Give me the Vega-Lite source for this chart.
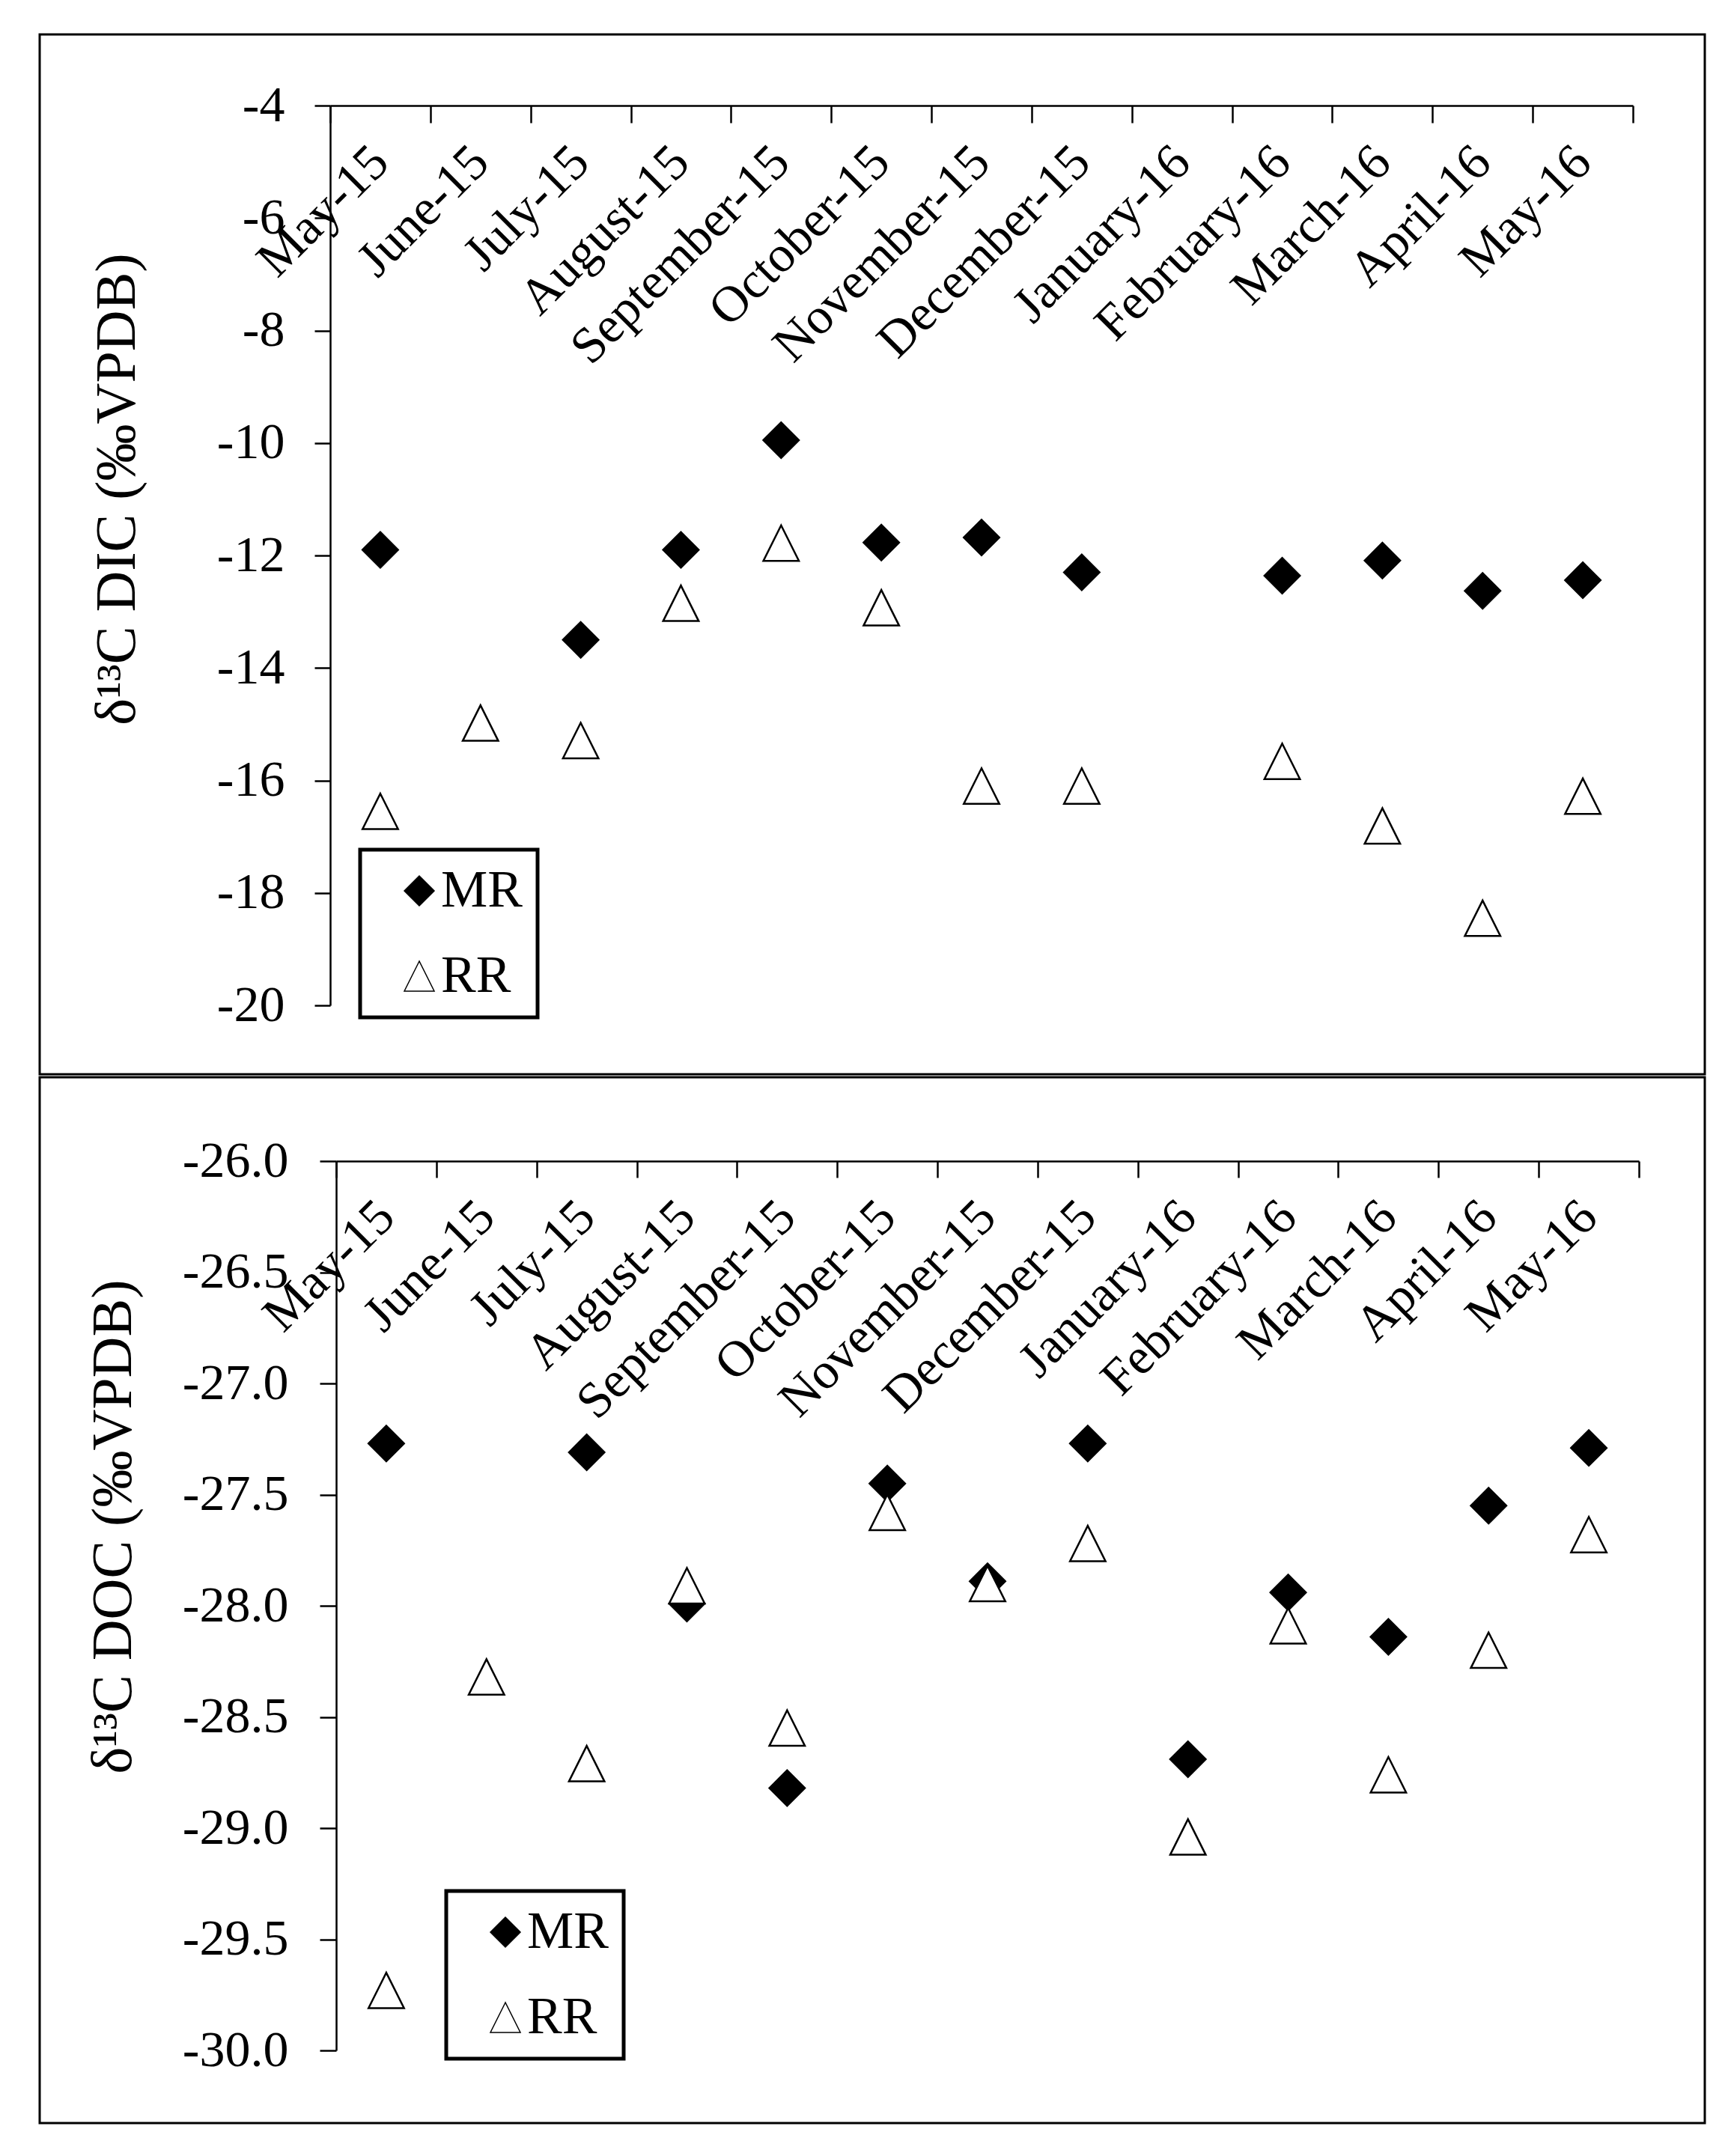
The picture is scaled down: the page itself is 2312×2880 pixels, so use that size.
{
  "$schema": "https://vega.github.io/schema/vega-lite/v6.json",
  "padding": {"left": 27, "top": 44, "right": 0, "bottom": 0},
  "autosize": {"type": "pad"},
  "background": "white",
  "spacing": 0,
  "resolve": {
    "scale": {"x": "independent", "y": "independent", "shape": "independent", "fill": "independent"},
    "legend": {"shape": "independent", "fill": "independent"},
    "axis": {"x": "independent", "y": "independent"}
  },
  "config": {
    "font": "Liberation Serif",
    "view": {"stroke": "black", "strokeWidth": 3},
    "axis": {
      "domainColor": "black", "domainWidth": 2.5,
      "tickColor": "black", "tickWidth": 2.5,
      "labelColor": "black", "labelFont": "Liberation Serif", "labelFontSize": 68, "labelLimit": 1000,
      "titleFont": "Liberation Serif", "titleFontSize": 76, "titleFontWeight": "normal", "titleColor": "black",
      "grid": false, "labelFlush": false, "labelOverlap": false
    },
    "legend": {"strokeWidth": 5}
  },
  "datasets": {
    "dic": [
      {"month": "May-15", "series": "MR", "value": -11.9},
      {"month": "July-15", "series": "MR", "value": -13.5},
      {"month": "August-15", "series": "MR", "value": -11.9},
      {"month": "September-15", "series": "MR", "value": -9.95},
      {"month": "October-15", "series": "MR", "value": -11.77},
      {"month": "November-15", "series": "MR", "value": -11.68},
      {"month": "December-15", "series": "MR", "value": -12.3},
      {"month": "February-16", "series": "MR", "value": -12.36},
      {"month": "March-16", "series": "MR", "value": -12.09},
      {"month": "April-16", "series": "MR", "value": -12.63},
      {"month": "May-16", "series": "MR", "value": -12.44},
      {"month": "May-15", "series": "RR", "value": -16.55},
      {"month": "June-15", "series": "RR", "value": -14.98},
      {"month": "July-15", "series": "RR", "value": -15.29},
      {"month": "August-15", "series": "RR", "value": -12.85},
      {"month": "September-15", "series": "RR", "value": -11.78},
      {"month": "October-15", "series": "RR", "value": -12.93},
      {"month": "November-15", "series": "RR", "value": -16.1},
      {"month": "December-15", "series": "RR", "value": -16.1},
      {"month": "February-16", "series": "RR", "value": -15.66},
      {"month": "March-16", "series": "RR", "value": -16.81},
      {"month": "April-16", "series": "RR", "value": -18.45},
      {"month": "May-16", "series": "RR", "value": -16.28}
    ],
    "doc": [
      {"month": "May-15", "series": "MR", "value": -27.27},
      {"month": "July-15", "series": "MR", "value": -27.31},
      {"month": "August-15", "series": "MR", "value": -27.99},
      {"month": "September-15", "series": "MR", "value": -28.82},
      {"month": "October-15", "series": "MR", "value": -27.45},
      {"month": "November-15", "series": "MR", "value": -27.89},
      {"month": "December-15", "series": "MR", "value": -27.27},
      {"month": "January-16", "series": "MR", "value": -28.69},
      {"month": "February-16", "series": "MR", "value": -27.94},
      {"month": "March-16", "series": "MR", "value": -28.14},
      {"month": "April-16", "series": "MR", "value": -27.55},
      {"month": "May-16", "series": "MR", "value": -27.29},
      {"month": "May-15", "series": "RR", "value": -29.73},
      {"month": "June-15", "series": "RR", "value": -28.32},
      {"month": "July-15", "series": "RR", "value": -28.71},
      {"month": "August-15", "series": "RR", "value": -27.91},
      {"month": "September-15", "series": "RR", "value": -28.55},
      {"month": "October-15", "series": "RR", "value": -27.58},
      {"month": "November-15", "series": "RR", "value": -27.9},
      {"month": "December-15", "series": "RR", "value": -27.72},
      {"month": "January-16", "series": "RR", "value": -29.04},
      {"month": "February-16", "series": "RR", "value": -28.09},
      {"month": "March-16", "series": "RR", "value": -28.76},
      {"month": "April-16", "series": "RR", "value": -28.2},
      {"month": "May-16", "series": "RR", "value": -27.68}
    ]
  },
  "vconcat": [
    {
      "width": 2224,
      "height": 1389,
      "data": {"name": "dic"},
      "mark": {"type": "point", "filled": true, "stroke": "black", "strokeWidth": 2.5, "opacity": 1, "size": 2250},
      "encoding": {
        "x": {
          "field": "month", "type": "ordinal",
          "scale": {"type": "band", "domain": ["May-15", "June-15", "July-15", "August-15", "September-15", "October-15", "November-15", "December-15", "January-16", "February-16", "March-16", "April-16", "May-16"], "range": [388, 2128], "paddingInner": 0, "paddingOuter": 0},
          "axis": {"orient": "bottom", "offset": -1294, "title": null, "labelAngle": -45, "labelAlign": "right", "labelBaseline": "middle", "labelFontSize": 68, "tickBand": "extent", "tickSize": 23, "labelPadding": 42}
        },
        "y": {
          "field": "value", "type": "quantitative",
          "scale": {"domain": [-20, -4], "range": [1297, 95], "nice": false, "zero": false},
          "axis": {"offset": -388, "values": [-4, -6, -8, -10, -12, -14, -16, -18, -20], "labelExpr": "replace(datum.label, '\u2212', '-')", "tickSize": 21, "labelPadding": 40, "title": "δ¹³C DIC (‰VPDB)", "titleAngle": -90, "titleX": -285, "titleY": 607, "titleBaseline": "middle", "titleAlign": "center"}
        },
        "shape": {
          "field": "series", "type": "nominal",
          "scale": {"domain": ["MR", "RR"], "range": ["diamond", "M0,-1L-1,1L1,1Z"]},
          "legend": {"orient": "none", "legendX": 428, "legendY": 1089, "title": null, "strokeColor": "black", "padding": 20, "labelFontSize": 70, "labelColor": "black", "labelFont": "Liberation Serif", "labelExpr": "datum.label + '\u00a0'", "symbolSize": 1600, "rowPadding": 44, "labelOffset": -6, "symbolOffset": 24,
            "encode": {"symbols": {"update": {"stroke": {"value": "black"}, "strokeWidth": {"value": 2.5}}}}}
        },
        "fill": {
          "field": "series", "type": "nominal",
          "scale": {"domain": ["MR", "RR"], "range": ["black", "white"]},
          "legend": {"orient": "none", "legendX": 428, "legendY": 1089, "title": null, "strokeColor": "black", "padding": 20, "labelFontSize": 70, "labelColor": "black", "labelFont": "Liberation Serif", "labelExpr": "datum.label + '\u00a0'", "symbolSize": 1600, "rowPadding": 44, "labelOffset": -6, "symbolOffset": 24,
            "encode": {"symbols": {"update": {"stroke": {"value": "black"}, "strokeWidth": {"value": 2.5}}}}}
        }
      }
    },
    {
      "width": 2224,
      "height": 1397,
      "data": {"name": "doc"},
      "mark": {"type": "point", "filled": true, "stroke": "black", "strokeWidth": 2.5, "opacity": 1, "size": 2250},
      "encoding": {
        "x": {
          "field": "month", "type": "ordinal",
          "scale": {"type": "band", "domain": ["May-15", "June-15", "July-15", "August-15", "September-15", "October-15", "November-15", "December-15", "January-16", "February-16", "March-16", "April-16", "May-16"], "range": [396, 2136], "paddingInner": 0, "paddingOuter": 0},
          "axis": {"orient": "bottom", "offset": -1285, "title": null, "labelAngle": -45, "labelAlign": "right", "labelBaseline": "middle", "labelFontSize": 68, "tickBand": "extent", "tickSize": 22, "labelPadding": 42}
        },
        "y": {
          "field": "value", "type": "quantitative",
          "scale": {"domain": [-30, -26], "range": [1300, 112], "nice": false, "zero": false},
          "axis": {"offset": -396, "values": [-26, -26.5, -27, -27.5, -28, -28.5, -29, -29.5, -30], "format": ".1f", "labelExpr": "replace(datum.label, '\u2212', '-')", "tickSize": 22, "labelPadding": 42, "title": "δ¹³C DOC (‰VPDB)", "titleAngle": -90, "titleX": -298, "titleY": 600, "titleBaseline": "middle", "titleAlign": "center"}
        },
        "shape": {
          "field": "series", "type": "nominal",
          "scale": {"domain": ["MR", "RR"], "range": ["diamond", "M0,-1L-1,1L1,1Z"]},
          "legend": {"orient": "none", "legendX": 543, "legendY": 1087, "title": null, "strokeColor": "black", "padding": 20, "labelFontSize": 70, "labelColor": "black", "labelFont": "Liberation Serif", "labelExpr": "datum.label + '\u00a0'", "symbolSize": 1600, "rowPadding": 44, "labelOffset": -6, "symbolOffset": 24,
            "encode": {"symbols": {"update": {"stroke": {"value": "black"}, "strokeWidth": {"value": 2.5}}}}}
        },
        "fill": {
          "field": "series", "type": "nominal",
          "scale": {"domain": ["MR", "RR"], "range": ["black", "white"]},
          "legend": {"orient": "none", "legendX": 543, "legendY": 1087, "title": null, "strokeColor": "black", "padding": 20, "labelFontSize": 70, "labelColor": "black", "labelFont": "Liberation Serif", "labelExpr": "datum.label + '\u00a0'", "symbolSize": 1600, "rowPadding": 44, "labelOffset": -6, "symbolOffset": 24,
            "encode": {"symbols": {"update": {"stroke": {"value": "black"}, "strokeWidth": {"value": 2.5}}}}}
        }
      }
    }
  ]
}
